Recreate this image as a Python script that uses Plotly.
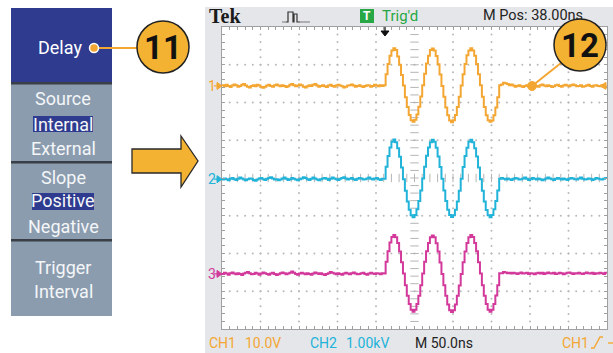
import plotly.graph_objects as go

W, H = 613, 353

# ---------------- data ----------------
t_start_ns, t_step_ns, n_samples = -250.0, 2.5, 201
time_ns = [t_start_ns + i * t_step_ns for i in range(n_samples)]

ch1_pre = [0.02, -0.01, 0.03, 0.00, -0.03, 0.01, 0.04, 0.02, -0.02, 0.00,
           0.03, 0.05, 0.01, -0.02, -0.04, 0.00, 0.02, -0.01, 0.03, 0.01,
           -0.03, -0.05, -0.02, 0.01, 0.03, 0.00, -0.02, 0.02, 0.04, 0.01,
           -0.01, 0.02, 0.00, -0.03, -0.01, 0.03, 0.05, 0.02, -0.01, 0.01,
           0.04, 0.02, -0.02, -0.04, -0.01, 0.02, 0.00, 0.03, 0.05, 0.01,
           -0.02, 0.00, 0.02, -0.01, -0.03, 0.01, 0.03, 0.00, -0.02, 0.01,
           0.03, 0.01, -0.01, -0.04, -0.02, 0.01, 0.02, 0.04, 0.01, -0.02,
           0.00, 0.02, -0.01, -0.03, 0.00, 0.02, 0.01, -0.02, 0.00, 0.03,
           0.01, -0.01, 0.02, 0.00]
ch1_burst = [0.02, 0.31, 0.58, 0.80, 0.94, 1.00, 0.95, 0.78, 0.56, 0.29,
             0.01, -0.30, -0.56, -0.77, -0.91, -0.95, -0.90, -0.76, -0.55, -0.28,
             0.02, 0.32, 0.59, 0.80, 0.95, 0.99, 0.94, 0.79, 0.57, 0.30,
             0.00, -0.29, -0.57, -0.78, -0.92, -0.96, -0.91, -0.77, -0.56, -0.29,
             0.01, 0.31, 0.58, 0.81, 0.94, 1.00, 0.94, 0.80, 0.58, 0.31,
             0.02, -0.29, -0.56, -0.78, -0.91, -0.95, -0.92, -0.78, -0.57, -0.30,
             0.02]
ch1_post = [0.04, 0.08, 0.07, 0.05, 0.02, 0.04, 0.01, -0.02, 0.00, 0.02,
            -0.01, -0.03, 0.00, 0.02, 0.01, -0.02, 0.01, 0.03, 0.00, -0.02,
            0.02, 0.04, 0.01, -0.01, 0.02, 0.00, -0.03, -0.01, 0.02, 0.03,
            0.00, -0.02, 0.01, 0.03, 0.01, -0.01, 0.02, 0.04, 0.02, -0.01,
            0.00, 0.02, -0.02, -0.01, 0.01, 0.03, 0.00, -0.02, 0.01, 0.02,
            0.00, -0.01, 0.02, 0.01, -0.02, 0.00]

ch2_pre = [-0.01, 0.02, 0.00, -0.03, 0.01, 0.03, 0.00, -0.02, 0.01, 0.04,
           0.02, -0.01, -0.03, 0.00, 0.02, 0.01, -0.02, -0.04, -0.01, 0.02,
           0.03, 0.00, -0.02, 0.01, 0.03, 0.05, 0.02, -0.01, 0.00, -0.03,
           -0.01, 0.02, 0.04, 0.01, -0.02, 0.00, 0.03, 0.01, -0.01, -0.03,
           0.00, 0.02, 0.05, 0.03, 0.00, -0.02, 0.01, 0.04, 0.02, -0.01,
           -0.03, 0.00, 0.02, 0.03, 0.01, -0.02, 0.01, 0.04, 0.02, 0.00,
           -0.02, 0.01, 0.03, 0.05, 0.02, -0.01, 0.01, 0.03, 0.00, -0.02,
           0.01, 0.03, 0.02, -0.01, 0.00, 0.02, 0.04, 0.01, -0.01, 0.02,
           0.03, 0.00, -0.02, 0.01]
ch2_burst = [0.01, 0.33, 0.61, 0.84, 0.99, 1.05, 0.98, 0.82, 0.59, 0.31,
             0.00, -0.31, -0.59, -0.81, -0.96, -1.01, -0.95, -0.80, -0.58, -0.30,
             0.02, 0.33, 0.62, 0.84, 0.98, 1.04, 0.99, 0.83, 0.60, 0.32,
             0.01, -0.30, -0.58, -0.81, -0.95, -1.00, -0.96, -0.81, -0.59, -0.31,
             0.01, 0.32, 0.61, 0.83, 0.99, 1.04, 0.98, 0.82, 0.60, 0.31,
             0.00, -0.31, -0.59, -0.82, -0.96, -1.01, -0.95, -0.80, -0.58, -0.30,
             0.01]
ch2_post = [0.03, 0.01, -0.01, 0.02, 0.00, -0.02, 0.01, 0.03, 0.02, -0.01,
            0.00, 0.02, 0.04, 0.01, -0.02, 0.00, 0.03, 0.01, -0.01, 0.02,
            0.00, -0.03, -0.01, 0.02, 0.04, 0.02, 0.00, -0.02, 0.01, 0.03,
            0.01, -0.01, 0.02, 0.00, -0.02, 0.01, 0.03, 0.02, 0.00, -0.01,
            0.02, 0.04, 0.01, -0.01, 0.00, 0.02, 0.01, -0.02, 0.00, 0.03,
            0.02, 0.00, -0.01, 0.01, 0.03, 0.01]

ch3_pre = [0.00, 0.03, 0.01, -0.02, 0.02, 0.04, 0.01, -0.01, 0.02, 0.00,
           -0.03, 0.01, 0.03, 0.05, 0.02, -0.01, 0.00, 0.03, 0.01, -0.02,
           0.01, 0.04, 0.02, 0.00, -0.02, 0.01, 0.03, 0.00, -0.03, -0.01,
           0.02, 0.04, 0.02, -0.01, 0.01, 0.03, 0.06, 0.03, 0.00, -0.02,
           0.01, 0.03, 0.01, -0.01, 0.02, 0.00, -0.02, 0.01, 0.04, 0.02,
           0.00, 0.02, -0.01, -0.03, 0.00, 0.02, 0.05, 0.03, 0.01, -0.01,
           0.02, 0.00, -0.02, 0.01, 0.03, 0.01, -0.01, 0.02, 0.04, 0.01,
           -0.01, 0.00, 0.02, 0.03, 0.00, -0.02, 0.01, 0.03, 0.01, 0.00,
           0.02, 0.01, -0.01, 0.02]
ch3_burst = [0.01, 0.32, 0.60, 0.83, 0.98, 1.03, 0.97, 0.82, 0.59, 0.31,
             0.01, -0.30, -0.58, -0.80, -0.95, -1.00, -0.95, -0.80, -0.58, -0.30,
             0.01, 0.32, 0.60, 0.82, 0.97, 1.02, 0.97, 0.81, 0.59, 0.30,
             0.00, -0.30, -0.58, -0.81, -0.96, -1.01, -0.96, -0.81, -0.58, -0.31,
             0.00, 0.31, 0.59, 0.82, 0.97, 1.03, 0.98, 0.82, 0.60, 0.31,
             0.01, -0.30, -0.58, -0.80, -0.95, -1.00, -0.95, -0.80, -0.57, -0.30,
             0.02]
ch3_post = [0.02, 0.05, 0.04, 0.02, 0.03, 0.01, 0.03, 0.02, 0.00, 0.02,
            0.04, 0.01, 0.02, 0.03, 0.00, 0.02, 0.01, -0.01, 0.02, 0.03,
            0.01, 0.03, 0.00, 0.02, 0.04, 0.02, 0.01, 0.03, 0.00, 0.01,
            0.03, 0.02, -0.01, 0.01, 0.03, 0.04, 0.02, 0.00, 0.02, 0.01,
            0.03, 0.01, 0.00, 0.02, 0.04, 0.02, 0.01, 0.03, 0.00, 0.02,
            0.01, 0.03, 0.02, 0.00, 0.03, 0.02]

ch_levels_div = [2.44, -0.03, -2.54]          # ground-level markers (divisions)
ch_names = ["1", "2", "3"]
menu_items = ["Source", "Internal", "External", "Slope", "Positive", "Negative",
              "Trigger", "Interval"]
status_top = ["Tek", "Trig'd", "M Pos: 38.00ns"]
status_bottom = ["CH1", "10.0V", "CH2", "1.00kV", "M 50.0ns", "CH1"]
callouts = ["11", "12"]

ch_values = [ch1_pre + ch1_burst + ch1_post,
             ch2_pre + ch2_burst + ch2_post,
             ch3_pre + ch3_burst + ch3_post]

# ---------------- styles ----------------
ORANGE = "#F4A633"
CYAN = "#22B3D9"
MAGENTA = "#D2399B"
GREEN = "#27A845"
CALL = "#F4B232"
MENU_BLUE = "#2E3B8F"
MENU_GRAY = "#8B9CAF"
SEP = "#3A3F47"
BEZEL = "#E5E6E9"
NARROW = "Roboto, Liberation Sans, sans-serif"
ch_colors = [ORANGE, CYAN, MAGENTA]

# screen placement in pixels
SX0, SX1, SY0, SY1 = 222, 607, 27, 329


def X(p):
    return p / W


def Y(p):
    return 1 - p / H


def path(points, close=False):
    s = "M " + " L ".join(f"{X(a):.5f},{Y(b):.5f}" for a, b in points)
    return s + (" Z" if close else "")


fig = go.Figure()

# grid dots
dx, dy = [], []
for gy in [-3, -2, -1, 1, 2, 3]:
    for k in range(-24, 25):
        dx.append(k * 10)
        dy.append(gy)
for gx in [-200, -150, -100, -50, 50, 100, 150, 200]:
    for k in range(-19, 20):
        dx.append(gx)
        dy.append(k * 0.2)
fig.add_trace(go.Scatter(x=dx, y=dy, mode="markers", hoverinfo="skip",
                         marker=dict(size=2, color="#B8B8B8"), showlegend=False))
# centre cross dashes
fig.add_trace(go.Scatter(x=[0] * 39, y=[k * 0.2 for k in range(-19, 20)], mode="markers",
                         hoverinfo="skip", showlegend=False,
                         marker=dict(symbol="line-ew", size=6, line=dict(width=1, color="#B5B5B5"))))
fig.add_trace(go.Scatter(x=[k * 10 for k in range(-24, 25)], y=[0] * 49, mode="markers",
                         hoverinfo="skip", showlegend=False,
                         marker=dict(symbol="line-ns", size=6, line=dict(width=1, color="#B5B5B5"))))

for name, vals, lvl, col in zip(ch_names, ch_values, ch_levels_div, ch_colors):
    fig.add_trace(go.Scatter(x=time_ns, y=[v + lvl for v in vals], mode="lines",
                             line=dict(color=col, width=2, shape="hv"),
                             name="CH" + name, showlegend=False, hoverinfo="skip"))

# overlay pixel axes for text drawn beneath callout circle
fig.add_trace(go.Scatter(x=[483], y=[16], xaxis="x2", yaxis="y2", mode="text",
                         text=[status_top[2]], textposition="middle right",
                         textfont=dict(family=NARROW, size=14.5, color="#222222"),
                         showlegend=False, hoverinfo="skip"))

shapes = []


def rect(x0, y0, x1, y1, fill, layer="below", line_color=None, lw=0):
    shapes.append(dict(type="rect", xref="paper", yref="paper", x0=X(x0), x1=X(x1),
                       y0=Y(y1), y1=Y(y0), fillcolor=fill, layer=layer,
                       line=dict(width=lw, color=line_color or fill)))


def pth(points, fill=None, color="#000", lw=1, close=False, layer="above"):
    shapes.append(dict(type="path", xref="paper", yref="paper", path=path(points, close),
                       fillcolor=fill if fill else "rgba(0,0,0,0)", layer=layer,
                       line=dict(color=color, width=lw)))


def circ(cx, cy, r, fill, color, lw, layer="above"):
    shapes.append(dict(type="circle", xref="paper", yref="paper", x0=X(cx - r), x1=X(cx + r),
                       y0=Y(cy + r), y1=Y(cy - r), fillcolor=fill, layer=layer,
                       line=dict(color=color, width=lw)))


# scope bezel and screen
rect(205, 7, 613, 353, BEZEL)
rect(SX0, SY0, SX1, SY1, "#FFFFFF")

# menu panel
rect(11, 8, 112, 83, MENU_BLUE)
rect(11, 83, 112, 316, MENU_GRAY)
for yy in [83, 162, 240]:
    rect(11, yy - 1, 112, yy + 1.5, SEP)
rect(33, 116, 93, 132, MENU_BLUE)
rect(32, 193, 94, 210, MENU_BLUE)

# big arrow
pth([(132, 149), (181, 149), (181, 136), (198, 161), (181, 187), (181, 173), (132, 173)],
    fill=CALL, color="#2A2A2A", lw=1.3, close=True)

# callout 11
pth([(94, 48), (137, 48)], color=ORANGE, lw=2)
circ(94, 48, 4.5, ORANGE, "#FFFFFF", 1.5)
circ(163, 47, 26, CALL, "#222222", 1.5)

# callout 12
pth([(532, 86), (561, 63)], color=ORANGE, lw=2)
circ(532, 86, 4.5, ORANGE, ORANGE, 1)
circ(580, 45, 26, CALL, "#222222", 1.5)

# channel ground markers
for lvl, col in zip(ch_levels_div, ch_colors):
    py = SY0 + (4 - lvl) * (SY1 - SY0) / 8
    pth([(214, py), (219, py)], color=col, lw=1.2)
    pth([(217, py - 3.5), (222, py), (217, py + 3.5)], fill=col, color=col, lw=1, close=True)

# trigger level marker (right)
py1 = SY0 + (4 - ch_levels_div[0]) * (SY1 - SY0) / 8
pth([(600, py1), (606, py1 - 3.5), (606, py1 + 3.5)], fill=ORANGE, color=ORANGE, lw=1, close=True)
# trigger position marker (top)
pth([(385, 27), (385, 32)], color="#111111", lw=1.3)
pth([(381, 31), (389, 31), (385, 36)], fill="#111111", color="#111111", lw=1, close=True)

# trigger status box
rect(360, 9, 374, 23, GREEN, layer="above")
# pulse icon
pth([(286, 22), (288, 22), (288, 12), (293, 12), (293, 22), (294, 22), (294, 14),
     (297, 14), (297, 22), (300, 22)], color="#333333", lw=1.2)
pth([(282, 22), (286, 22)], color="#777777", lw=1)
pth([(300, 22), (310, 22)], color="#777777", lw=1)
# slope icon
pth([(591, 348), (594, 348), (600, 337), (603, 337)], color=ORANGE, lw=1.4)
pth([(608, 343), (613, 343)], color=ORANGE, lw=1.4)

annotations = []


def ann(text, x, y, size, color, anchor="left", family=NARROW):
    annotations.append(dict(text=text, x=X(x), y=Y(y), xref="paper", yref="paper",
                            xanchor=anchor, yanchor="middle", showarrow=False,
                            font=dict(family=family, size=size, color=color)))


ann("Delay", 84, 48, 18, "#FFFFFF", anchor="right")
menu_y = [98, 124, 148, 177, 201, 226, 267, 291]
for txt, yy in zip(menu_items, menu_y):
    ann(txt, 63, yy, 18, "#F4F6F8", anchor="center")

ann("<b>" + status_top[0] + "</b>", 207, 16, 20, "#1A1A1A",
    family="Liberation Serif, Times New Roman, serif")
ann("<b>T</b>", 367, 16, 12, "#FFFFFF", anchor="center", family="Liberation Sans, Arial, sans-serif")
ann(status_top[1], 380, 16, 15, GREEN)

bx = [207, 243, 308, 344, 413, 560]
bc = [ORANGE, ORANGE, CYAN, CYAN, "#222222", ORANGE]
for txt, xx, cc in zip(status_bottom, bx, bc):
    ann(txt, xx, 343, 14, cc)

for ch, lvl, col in zip(ch_names, ch_levels_div, ch_colors):
    py = SY0 + (4 - lvl) * (SY1 - SY0) / 8
    ann(ch, 206, py, 14, col)

ann("<b>" + callouts[0] + "</b>", 163, 48, 33, "#111111", anchor="center")
ann("<b>" + callouts[1] + "</b>", 580, 46, 33, "#111111", anchor="center")

fig.update_layout(
    width=W, height=H, margin=dict(l=0, r=0, t=0, b=0),
    paper_bgcolor="#FFFFFF", plot_bgcolor="rgba(0,0,0,0)",
    shapes=shapes, annotations=annotations, showlegend=False,
    xaxis=dict(domain=[X(SX0), X(SX1)], range=[-250, 250], showgrid=False, zeroline=False,
               showticklabels=False, ticks="inside", dtick=10, tick0=0, ticklen=3,
               tickcolor="#A0A0A0", showline=True, linecolor="#A0A0A0", linewidth=1,
               mirror="ticks", fixedrange=True),
    yaxis=dict(domain=[Y(SY1), Y(SY0)], range=[-4, 4], showgrid=False, zeroline=False,
               showticklabels=False, ticks="inside", dtick=0.2, tick0=0, ticklen=3,
               tickcolor="#A0A0A0", showline=True, linecolor="#A0A0A0", linewidth=1,
               mirror="ticks", fixedrange=True),
    xaxis2=dict(domain=[0, 1], range=[0, W], visible=False, fixedrange=True),
    yaxis2=dict(domain=[0, 1], range=[H, 0], visible=False, fixedrange=True, anchor="x2"),
)

fig.write_html("out.html", config={"displayModeBar": False},
               post_script="document.body.style.margin='0px';document.body.style.overflow='hidden';")
